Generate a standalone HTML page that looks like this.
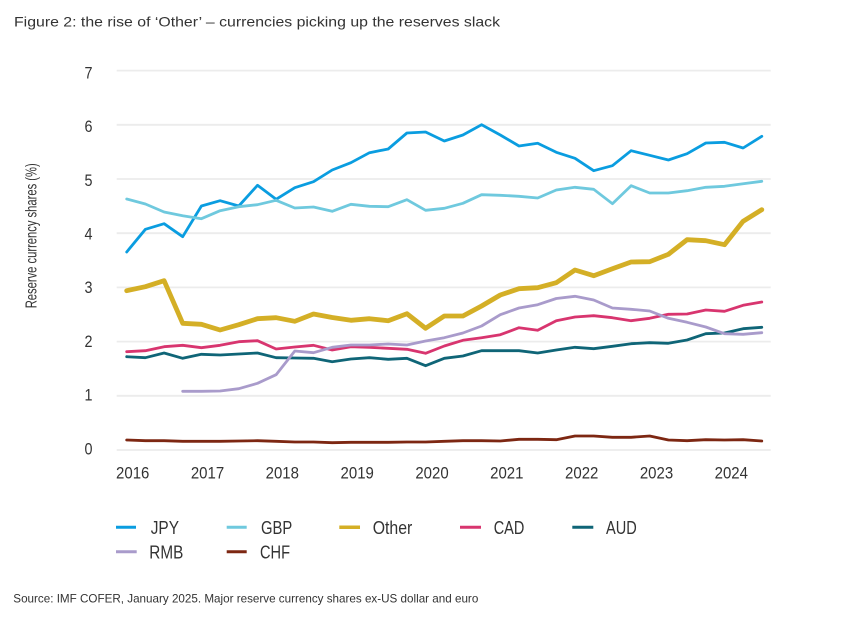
<!DOCTYPE html>
<html>
<head>
<meta charset="utf-8">
<style>
  html, body { margin: 0; padding: 0; background: #ffffff; }
  svg { display: block; }
  text { font-family: "Liberation Sans", "DejaVu Sans", sans-serif; fill: #333333; }
</style>
</head>
<body>
<svg width="846" height="620" viewBox="0 0 846 620" xmlns="http://www.w3.org/2000/svg">
  <rect x="0" y="0" width="846" height="620" fill="#ffffff"/>

  <!-- Title -->
  <text x="14" y="26.7" font-size="14" textLength="486" lengthAdjust="spacingAndGlyphs">Figure 2: the rise of ‘Other’ – currencies picking up the reserves slack</text>

  <!-- Gridlines -->
  <g stroke="#ececec" stroke-width="1.8">
    <line x1="116.7" y1="70.6" x2="770.7" y2="70.6"/>
    <line x1="116.7" y1="124.8" x2="770.7" y2="124.8"/>
    <line x1="116.7" y1="179" x2="770.7" y2="179"/>
    <line x1="116.7" y1="233.2" x2="770.7" y2="233.2"/>
    <line x1="116.7" y1="287.4" x2="770.7" y2="287.4"/>
    <line x1="116.7" y1="341.6" x2="770.7" y2="341.6"/>
    <line x1="116.7" y1="395.8" x2="770.7" y2="395.8"/>
    <line x1="116.7" y1="450" x2="770.7" y2="450"/>
  </g>

  <!-- Y tick labels -->
  <g font-size="17" text-anchor="end">
    <text x="92.5" y="78.3" textLength="8" lengthAdjust="spacingAndGlyphs">7</text>
    <text x="92.5" y="132.1" textLength="8" lengthAdjust="spacingAndGlyphs">6</text>
    <text x="92.5" y="185.8" textLength="8" lengthAdjust="spacingAndGlyphs">5</text>
    <text x="92.5" y="239.5" textLength="8" lengthAdjust="spacingAndGlyphs">4</text>
    <text x="92.5" y="293.2" textLength="8" lengthAdjust="spacingAndGlyphs">3</text>
    <text x="92.5" y="346.9" textLength="8" lengthAdjust="spacingAndGlyphs">2</text>
    <text x="92.5" y="400.6" textLength="8" lengthAdjust="spacingAndGlyphs">1</text>
    <text x="92.5" y="454.3" textLength="8" lengthAdjust="spacingAndGlyphs">0</text>
  </g>

  <!-- Y axis title -->
  <text transform="translate(36.5,235.8) rotate(-90)" font-size="16" text-anchor="middle" textLength="145" lengthAdjust="spacingAndGlyphs">Reserve currency shares (%)</text>

  <!-- X tick labels -->
  <g font-size="17" text-anchor="middle">
    <text x="132.7" y="478.3" textLength="33.3" lengthAdjust="spacingAndGlyphs">2016</text>
    <text x="207.5" y="478.3" textLength="33.3" lengthAdjust="spacingAndGlyphs">2017</text>
    <text x="282.3" y="478.3" textLength="33.3" lengthAdjust="spacingAndGlyphs">2018</text>
    <text x="357.2" y="478.3" textLength="33.3" lengthAdjust="spacingAndGlyphs">2019</text>
    <text x="432.0" y="478.3" textLength="33.3" lengthAdjust="spacingAndGlyphs">2020</text>
    <text x="506.8" y="478.3" textLength="33.3" lengthAdjust="spacingAndGlyphs">2021</text>
    <text x="581.7" y="478.3" textLength="33.3" lengthAdjust="spacingAndGlyphs">2022</text>
    <text x="656.5" y="478.3" textLength="33.3" lengthAdjust="spacingAndGlyphs">2023</text>
    <text x="731.3" y="478.3" textLength="33.3" lengthAdjust="spacingAndGlyphs">2024</text>
  </g>

  <!-- Series -->
  <g fill="none" stroke-linejoin="round" stroke-linecap="round">
    <!-- JPY -->
    <polyline stroke="#0a9de0" stroke-width="2.8" points="126.7,252 145.4,229.3 164.1,223.7 182.7,236.7 201.4,206 220.1,200.7 238.8,206 257.5,185.3 276.1,199.3 294.8,187.7 313.5,181.7 332.2,170 350.9,162.7 369.5,152.7 388.2,149 406.9,133 425.6,132 444.3,141 462.9,135 481.6,124.7 500.3,135 519.0,146 537.7,143.3 556.3,152.3 575.0,158.3 593.7,170.7 612.4,165.7 631.1,150.7 649.7,155.3 668.4,160 687.1,153.7 705.8,143 724.5,142.3 743.1,148 761.8,136.3"/>
    <!-- GBP -->
    <polyline stroke="#6fc9de" stroke-width="2.8" points="126.7,199 145.4,204 164.1,212 182.7,215.7 201.4,218.7 220.1,210.7 238.8,206.7 257.5,204.7 276.1,200.3 294.8,208 313.5,207 332.2,211.3 350.9,204.3 369.5,206.3 388.2,206.7 406.9,199.7 425.6,210.3 444.3,208.3 462.9,203.3 481.6,194.7 500.3,195.3 519.0,196.3 537.7,198 556.3,190 575.0,187.3 593.7,189.3 612.4,203.7 631.1,185.7 649.7,193 668.4,193 687.1,190.7 705.8,187.3 724.5,186.3 743.1,183.7 761.8,181.3"/>
    <!-- Other -->
    <polyline stroke="#d4af26" stroke-width="4.8" points="126.7,290.7 145.4,286.7 164.1,280.7 182.7,323.3 201.4,324.3 220.1,330 238.8,324.7 257.5,318.7 276.1,317.7 294.8,321.3 313.5,314 332.2,317.5 350.9,320.3 369.5,318.7 388.2,320.7 406.9,313.7 425.6,328.3 444.3,316 462.9,316 481.6,306 500.3,295 519.0,288.7 537.7,287.7 556.3,282.7 575.0,270 593.7,275.7 612.4,268.7 631.1,262 649.7,261.7 668.4,254.3 687.1,239.7 705.8,240.7 724.5,244.7 743.1,221.3 761.8,209.7"/>
    <!-- CAD -->
    <polyline stroke="#d8356f" stroke-width="2.8" points="126.7,351.7 145.4,350.7 164.1,346.7 182.7,345.3 201.4,347.7 220.1,345.3 238.8,341.7 257.5,340.7 276.1,349 294.8,347 313.5,345.3 332.2,350 350.9,346.7 369.5,347.3 388.2,348.3 406.9,349.3 425.6,353.3 444.3,346 462.9,340.3 481.6,337.7 500.3,334.7 519.0,327.7 537.7,330.3 556.3,320.7 575.0,317 593.7,315.7 612.4,317.7 631.1,320.7 649.7,318.3 668.4,314.3 687.1,314 705.8,310 724.5,311.3 743.1,305.3 761.8,302"/>
    <!-- AUD -->
    <polyline stroke="#0f6577" stroke-width="2.8" points="126.7,356.7 145.4,357.7 164.1,353 182.7,358.3 201.4,354.3 220.1,355 238.8,354 257.5,353 276.1,357.7 294.8,358 313.5,358.3 332.2,361.7 350.9,359 369.5,357.7 388.2,359.3 406.9,358.3 425.6,365.7 444.3,358.3 462.9,356 481.6,350.7 500.3,350.7 519.0,350.7 537.7,353 556.3,350 575.0,347.3 593.7,348.7 612.4,346.3 631.1,343.7 649.7,342.7 668.4,343.3 687.1,340 705.8,333.7 724.5,333 743.1,328.7 761.8,327.3"/>
    <!-- RMB -->
    <polyline stroke="#a99bcb" stroke-width="2.8" points="182.7,391.3 201.4,391.3 220.1,391 238.8,388.7 257.5,383.3 276.1,374.7 294.8,351 313.5,352.7 332.2,347.3 350.9,345 369.5,345 388.2,344 406.9,345 425.6,341 444.3,337.7 462.9,333 481.6,326 500.3,314.7 519.0,308 537.7,304.7 556.3,298.5 575.0,296.3 593.7,300 612.4,308 631.1,309.3 649.7,311 668.4,318.3 687.1,322.3 705.8,327 724.5,333.7 743.1,334.3 761.8,332.7"/>
    <!-- CHF -->
    <polyline stroke="#7d2712" stroke-width="2.8" points="126.7,440 145.4,440.7 164.1,440.7 182.7,441.3 201.4,441.3 220.1,441.3 238.8,441 257.5,440.7 276.1,441.3 294.8,442 313.5,442 332.2,442.7 350.9,442.3 369.5,442.3 388.2,442.3 406.9,442 425.6,442 444.3,441.3 462.9,440.7 481.6,440.7 500.3,441 519.0,439.3 537.7,439.3 556.3,439.7 575.0,436 593.7,436 612.4,437.3 631.1,437.3 649.7,436 668.4,440 687.1,440.7 705.8,439.7 724.5,440 743.1,439.7 761.8,441"/>
  </g>

  <!-- Legend -->
  <g stroke-linecap="butt">
    <line x1="116" y1="527.3" x2="136" y2="527.3" stroke="#0a9de0" stroke-width="3"/>
    <line x1="226.7" y1="527.3" x2="246.7" y2="527.3" stroke="#6fc9de" stroke-width="3"/>
    <line x1="339.3" y1="527.3" x2="360" y2="527.3" stroke="#d4af26" stroke-width="3.5"/>
    <line x1="460" y1="527.3" x2="481" y2="527.3" stroke="#d8356f" stroke-width="3"/>
    <line x1="572.3" y1="527.3" x2="593.3" y2="527.3" stroke="#0f6577" stroke-width="3"/>
    <line x1="116" y1="551.7" x2="136.7" y2="551.7" stroke="#a99bcb" stroke-width="3"/>
    <line x1="226.7" y1="551.7" x2="246.7" y2="551.7" stroke="#7d2712" stroke-width="3"/>
  </g>
  <g font-size="18.5" fill="#222222">
    <text x="150.7" y="534" textLength="28.3" lengthAdjust="spacingAndGlyphs">JPY</text>
    <text x="261" y="534" textLength="31.3" lengthAdjust="spacingAndGlyphs">GBP</text>
    <text x="372.7" y="534" textLength="39.6" lengthAdjust="spacingAndGlyphs">Other</text>
    <text x="493.7" y="534" textLength="30.6" lengthAdjust="spacingAndGlyphs">CAD</text>
    <text x="606" y="534" textLength="30.7" lengthAdjust="spacingAndGlyphs">AUD</text>
    <text x="149.3" y="558.3" textLength="34" lengthAdjust="spacingAndGlyphs">RMB</text>
    <text x="260" y="558.3" textLength="30" lengthAdjust="spacingAndGlyphs">CHF</text>
  </g>

  <!-- Source -->
  <text x="13.3" y="602.7" font-size="12" textLength="465" lengthAdjust="spacingAndGlyphs">Source: IMF COFER, January 2025. Major reserve currency shares ex-US dollar and euro</text>
</svg>
</body>
</html>
